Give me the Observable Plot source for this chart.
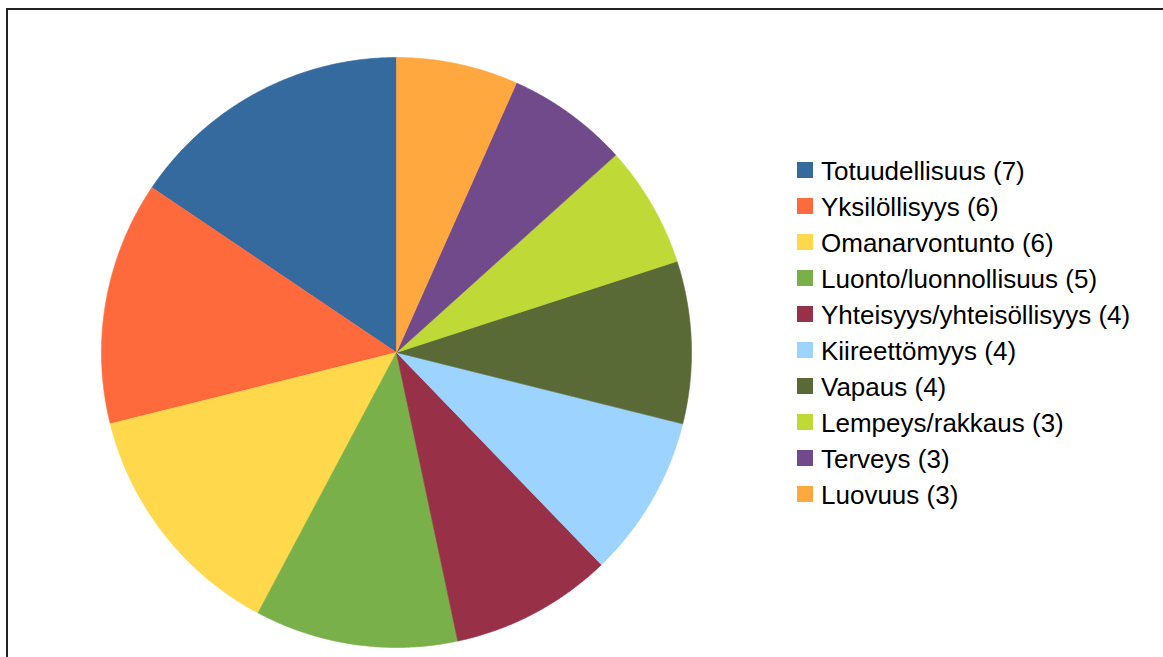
<!DOCTYPE html>
<html>
<head>
<meta charset="utf-8">
<script src="https://cdn.jsdelivr.net/npm/d3@7"></script>
<script src="https://cdn.jsdelivr.net/npm/@observablehq/plot@0.6"></script>
<style>
  html, body { margin: 0; padding: 0; background: #fff; }
  #wrap { position: relative; width: 1163px; height: 657px; overflow: hidden; }
  #frame { position: absolute; left: 6px; top: 8px; width: 1200px; height: 700px;
           border-top: 2px solid #222; border-left: 2px solid #222; box-sizing: border-box; }
  #legend { position: absolute; left: 797px; top: 152px; font-family: "Liberation Sans", Arial, sans-serif;
            font-size: 26px; color: #000; }
  .row { height: 36px; display: flex; align-items: center; white-space: nowrap; }
  .sw { width: 16px; height: 16px; margin-right: 8px; flex: none; }
  .tx { position: relative; top: 1px; }
  #chart { position: absolute; left: 0; top: 0; }
</style>
</head>
<body>
<div id="wrap">
  <div id="chart"></div>
  <div id="frame"></div>
  <div id="legend"></div>
</div>
<script>
const categories = ["Totuudellisuus", "Yksilöllisyys", "Omanarvontunto", "Luonto/luonnollisuus",
  "Yhteisyys/yhteisöllisyys", "Kiireettömyys", "Vapaus", "Lempeys/rakkaus", "Terveys", "Luovuus"];
const counts = [7, 6, 6, 5, 4, 4, 4, 3, 3, 3];
const colors = ["#346a9d", "#ff6a3c", "#ffd84c", "#79b04a", "#983048",
  "#9dd3ff", "#5a6a37", "#bfda36", "#714a8b", "#ffa83f"];

const W = 1163, H = 657, CX = 396, CY = 352, R = 295;

// pie angles: counter-clockwise from 12 o'clock
const arcs = d3.pie().sort(null).value(d => d.value).startAngle(0).endAngle(-2 * Math.PI)(
  categories.map((name, i) => ({name, value: counts[i]}))
);
const pts = [];
for (const a of arcs) {
  const name = a.data.name;
  pts.push({name, x: 0, y: 0});
  const n = Math.max(8, Math.ceil(Math.abs(a.endAngle - a.startAngle) * 120));
  for (let k = 0; k <= n; k++) {
    const t = a.startAngle + (a.endAngle - a.startAngle) * k / n;
    pts.push({name, x: Math.sin(t), y: Math.cos(t)});
  }
  pts.push({name, x: 0, y: 0});
}

const chart = Plot.plot({
  width: W, height: H,
  margin: 0,
  x: {domain: [-CX / R, (W - CX) / R], range: [0, W], axis: null},
  y: {domain: [-(H - CY) / R, CY / R], range: [H, 0], axis: null},
  color: {domain: categories, range: colors, legend: false},
  marks: [
    Plot.line(pts, {x: "x", y: "y", z: "name", fill: "name", stroke: "name", strokeWidth: 0.6, curve: "linear"})
  ]
});
document.getElementById("chart").appendChild(chart);

const legend = document.getElementById("legend");
categories.forEach((c, i) => {
  const row = document.createElement("div");
  row.className = "row";
  const sw = document.createElement("span");
  sw.className = "sw";
  sw.style.background = colors[i];
  const tx = document.createElement("span");
  tx.className = "tx";
  tx.textContent = `${c} (${counts[i]})`;
  row.appendChild(sw); row.appendChild(tx);
  legend.appendChild(row);
});
</script>
</body>
</html>
